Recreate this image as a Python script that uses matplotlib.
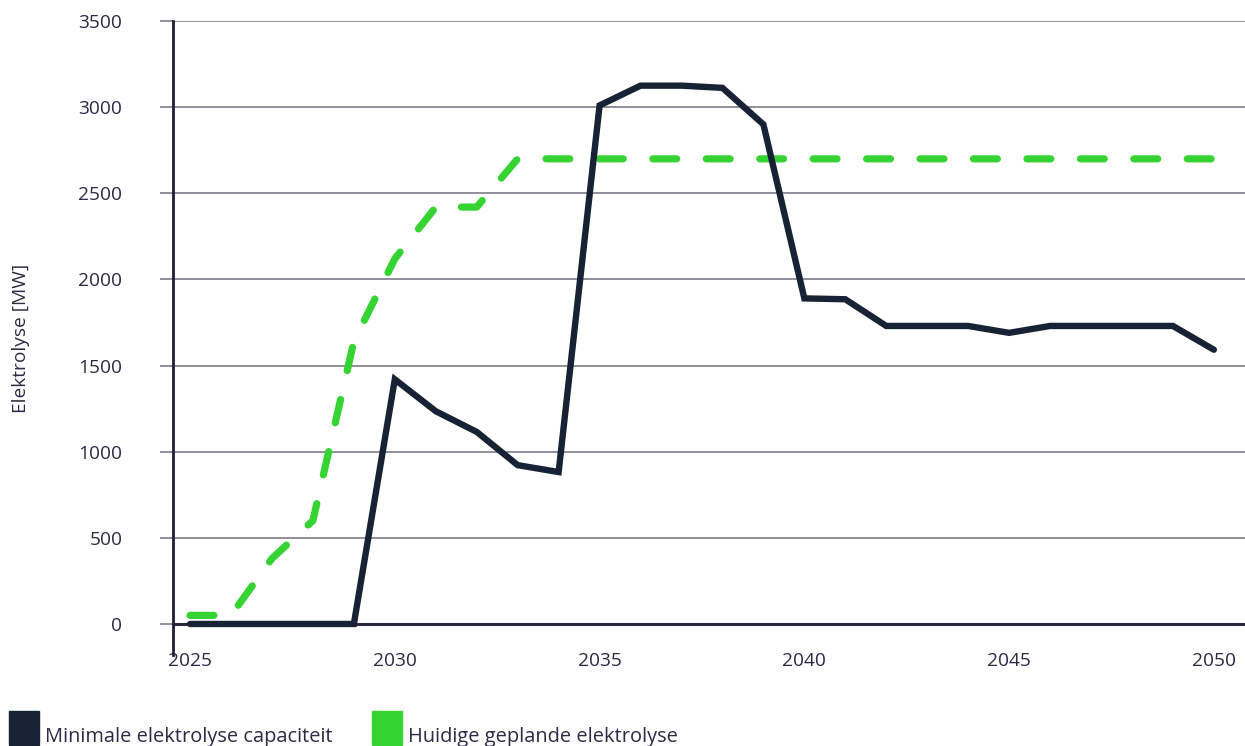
import matplotlib.pyplot as plt
from matplotlib.patches import Rectangle

# Elektrolyse capaciteit per jaar [MW]
years = list(range(2025, 2051))
minimaal = [0, 0, 0, 0, 0, 1420, 1235, 1115, 922, 882,
            3010, 3125, 3125, 3112, 2900, 1890, 1885, 1730, 1730, 1730,
            1690, 1730, 1730, 1730, 1730, 1592]
gepland = [50, 50, 380, 600, 1640, 2120, 2420, 2420, 2700, 2700,
           2700, 2700, 2700, 2700, 2700, 2700, 2700, 2700, 2700, 2700,
           2700, 2700, 2700, 2700, 2700, 2700]

yticks = [0, 500, 1000, 1500, 2000, 2500, 3000, 3500]
xticks = [2025, 2030, 2035, 2040, 2045, 2050]
labels = ['Minimale elektrolyse capaciteit', 'Huidige geplande elektrolyse']

navy = '#172335'
green = '#36d432'
textc = '#2b2b45'
gridc = '#7d7d8c'

plt.rcParams['font.family'] = ['Open Sans', 'DejaVu Sans']

fig = plt.figure(figsize=(12.45, 7.46), dpi=100)
ax = fig.add_axes([0.139, 0.122, 0.861, 0.8498])

ax.set_xlim(2024.585, 2050.76)
ax.set_ylim(-180, 3500)

for v in yticks[1:]:
    ax.axhline(v, color=gridc, lw=1.2, zorder=1)
ax.axhline(0, color='#2a2a40', lw=2.2, zorder=1)

ax.plot(years, gepland, color=green, lw=5.2, dashes=(3.3, 4.1),
        dash_capstyle='round', zorder=3)
ax.plot(years, minimaal, color=navy, lw=4.6, solid_joinstyle='miter',
        solid_capstyle='round', zorder=4)

for s in ['top', 'right', 'bottom']:
    ax.spines[s].set_visible(False)
ax.spines['left'].set_color('#1e1e35')
ax.spines['left'].set_linewidth(2)

ax.set_yticks(yticks)
ax.set_yticklabels([str(v) for v in yticks])
ax.tick_params(axis='y', length=9.4, width=1.2, color=gridc, pad=27,
               labelsize=13.8, labelcolor=textc)
ax.set_xticks(xticks)
ax.set_xticklabels([str(v) for v in xticks])
ax.tick_params(axis='x', length=0, pad=-2, labelsize=13.8, labelcolor=textc)

fig.text(0.017, 0.547, 'Elektrolyse [MW]', rotation=90, ha='center',
         va='center', fontsize=13.8, color=textc)

# legend
W, H = 1245, 746
for x0, col, lab in [(9, navy, labels[0]), (372, green, labels[1])]:
    fig.patches.append(Rectangle((x0 / W, (H - 745) / H), 30 / W, 34 / H,
                                 transform=fig.transFigure, color=col))
    fig.text((x0 + 36) / W, (H - 742) / H, lab, fontsize=14.4,
             color=textc, ha='left', va='baseline')

fig.savefig('out.png', dpi=100)
